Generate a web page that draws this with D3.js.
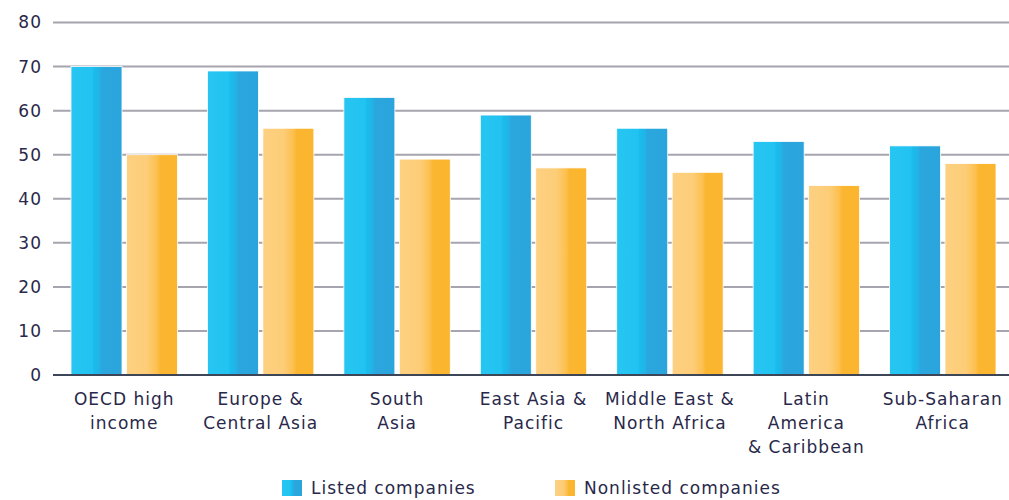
<!doctype html>
<html>
  <head>
    <script src="https://cdn.jsdelivr.net/npm/d3@7/dist/d3.min.js"></script>
    <style>
      body, html { margin: 0; background: #fff; }
      svg { display: block; }
      text { font-family: "DejaVu Sans", sans-serif; fill: #29284a; font-size: 17px; letter-spacing: 1px; }
      .grid line { stroke: #a6a4ae; stroke-width: 2px; }
    </style>
  </head>
  <body>
    <svg width="1009" height="500"></svg>
    <script>
      var regions = [
        ["OECD high", "income"],
        ["Europe &", "Central Asia"],
        ["South", "Asia"],
        ["East Asia &", "Pacific"],
        ["Middle East &", "North Africa"],
        ["Latin", "America", "& Caribbean"],
        ["Sub-Saharan", "Africa"]
      ];
      var listed = [70, 69, 63, 59, 56, 53, 52];
      var nonlisted = [50, 56, 49, 47, 46, 43, 48];
      var seriesNames = ["Listed companies", "Nonlisted companies"];
      var yTicks = [0, 10, 20, 30, 40, 50, 60, 70, 80];

      var svg = d3.select("svg");
      var defs = svg.append("defs");

      function grad(id, stops) {
        var g = defs.append("linearGradient").attr("id", id)
          .attr("x1", "0%").attr("x2", "100%").attr("y1", "0%").attr("y2", "0%");
        stops.forEach(s => g.append("stop").attr("offset", s[0]).attr("stop-color", s[1]));
      }
      grad("gListed", [["0%", "#27c5f2"], ["42%", "#22c3f1"], ["44%", "#19bdee"], ["56%", "#22b3e6"], ["60%", "#2aa7de"], ["100%", "#2ba4dc"]]);
      grad("gNon", [["0%", "#fdd182"], ["40%", "#fdcd78"], ["60%", "#fcc04f"], ["66%", "#fbb631"], ["100%", "#fbb52e"]]);

      var x0 = d3.scaleBand().domain(d3.range(regions.length)).range([56, 1011]).paddingInner(0.22).paddingOuter(0.11);
      var x1 = d3.scaleBand().domain([0, 1]).range([0, x0.bandwidth()]).paddingInner(0.08);
      var y = d3.scaleLinear().domain([0, 80]).range([375, 22.5]);

      // gridlines
      svg.append("g").attr("class", "grid")
        .selectAll("line").data(yTicks.filter(d => d > 0)).join("line")
        .attr("x1", 53).attr("x2", 1009)
        .attr("y1", d => y(d)).attr("y2", d => y(d));

      // y labels
      svg.append("g").selectAll("text").data(yTicks).join("text")
        .attr("x", 42).attr("y", d => y(d)).attr("dy", "0.35em")
        .attr("text-anchor", "end").text(d => d);

      var fills = ["url(#gListed)", "url(#gNon)"];
      var groups = svg.append("g").selectAll("g").data(regions.map((r, i) => [listed[i], nonlisted[i]]))
        .join("g").attr("transform", (d, i) => "translate(" + x0(i) + ",0)");
      groups.selectAll("rect").data(d => d).join("rect")
        .attr("x", (d, j) => x1(j))
        .attr("width", x1.bandwidth())
        .attr("y", d => y(d))
        .attr("height", d => y(0) - y(d))
        .attr("fill", (d, j) => fills[j])
        .attr("stroke", "#fff").attr("stroke-width", 0.8);

      // baseline
      svg.append("line").attr("x1", 53).attr("x2", 1009)
        .attr("y1", y(0)).attr("y2", y(0))
        .attr("stroke", "#3c4656").attr("stroke-width", 2);

      // category labels
      svg.append("g").selectAll("text").data(regions).join("text")
        .attr("text-anchor", "middle")
        .attr("transform", (d, i) => "translate(" + (x0(i) + x0.bandwidth() / 2) + ",405)")
        .selectAll("tspan").data(d => d).join("tspan")
        .attr("x", 0).attr("y", (d, k) => k * 24)
        .text(d => d);

      // legend
      var legX = [282, 555];
      var leg = svg.append("g").selectAll("g").data(seriesNames).join("g")
        .attr("transform", (d, i) => "translate(" + legX[i] + ",480)");
      leg.append("rect").attr("width", 20).attr("height", 16).attr("fill", (d, i) => fills[i]);
      leg.append("text").attr("x", 29).attr("y", 8).attr("dy", "0.35em").text(d => d);
    </script>
  </body>
</html>
